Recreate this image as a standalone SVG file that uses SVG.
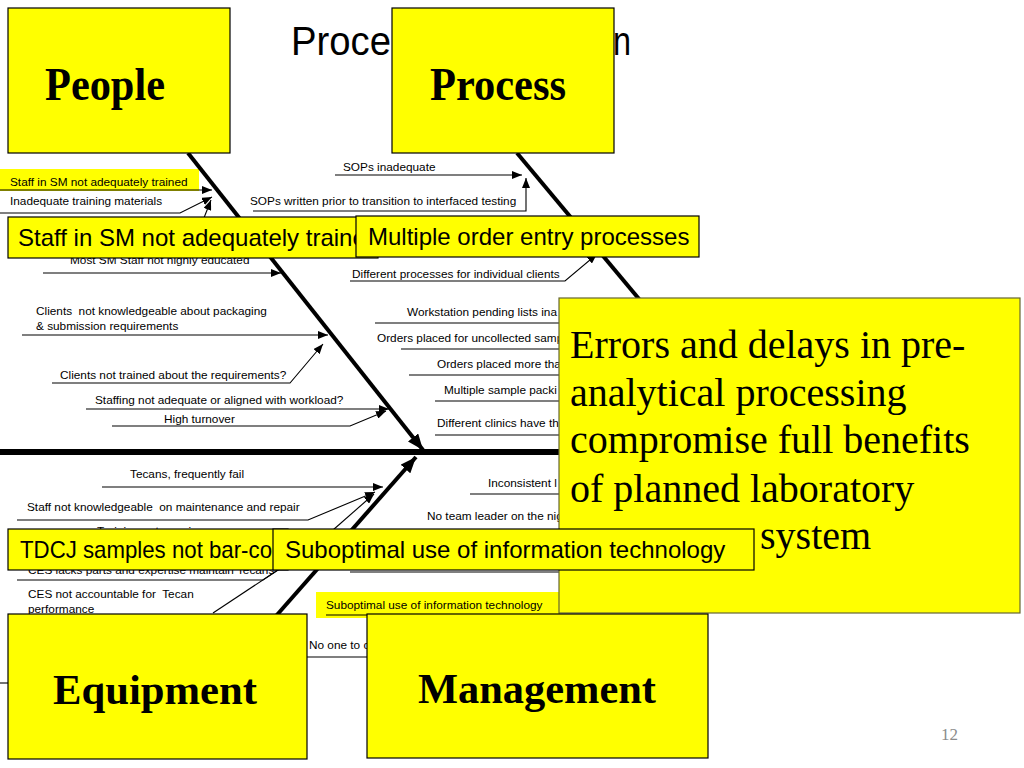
<svg xmlns="http://www.w3.org/2000/svg" width="1024" height="768" viewBox="0 0 1024 768">
<defs>
<marker id="ah" markerUnits="userSpaceOnUse" markerWidth="10" markerHeight="8" refX="10" refY="4" orient="auto"><path d="M0,0 L10,4 L0,8 z" fill="#000"/></marker>
<marker id="ahb" markerUnits="userSpaceOnUse" markerWidth="16" markerHeight="13" refX="16" refY="6.5" orient="auto"><path d="M0,0 L16,6.5 L0,13 z" fill="#000"/></marker>
<style>
.s{font-family:"Liberation Sans",Arial,sans-serif;font-size:11.8px;fill:#000;white-space:pre}
.m{font-family:"Liberation Sans",Arial,sans-serif;font-size:24px;fill:#000;white-space:pre}
.h{font-family:"Liberation Serif","Times New Roman",serif;font-weight:bold;fill:#000}
.big{font-family:"Liberation Serif","Times New Roman",serif;font-size:40px;fill:#000}
.box{fill:#ffff00;stroke:#000;stroke-width:1.2}
.hl{fill:#ffff00}
.t{fill:none;stroke:#000;stroke-width:1.1}
.ta{fill:none;stroke:#000;stroke-width:1.1;marker-end:url(#ah)}
.rib{fill:none;stroke:#000;stroke-width:4}
</style>
</defs>
<rect width="1024" height="768" fill="#fff"/>
<g id="title">
<text x="291" y="55" font-family="Liberation Sans,Arial,sans-serif" font-size="40" textLength="100" lengthAdjust="spacingAndGlyphs">Proce</text>
<text x="613" y="55" font-family="Liberation Sans,Arial,sans-serif" font-size="40" textLength="18" lengthAdjust="spacingAndGlyphs">n</text>
</g>
<g id="highlights">
<rect class="hl" x="0" y="169" width="199" height="22"/>
<rect class="hl" x="316" y="592" width="244" height="26"/>
</g>
<g id="connectors">
<line x1="0" y1="452" x2="600" y2="452" stroke="#000" stroke-width="6"/>
<line class="rib" x1="188" y1="153" x2="423" y2="450" marker-end="url(#ahb)"/>
<line class="rib" x1="517" y1="153" x2="690" y2="360"/>
<line class="rib" x1="276" y1="616" x2="416" y2="457" marker-end="url(#ahb)"/>
<line class="ta" x1="0" y1="190" x2="212" y2="190"/>
<polyline class="ta" points="0,213 180,213 212,197"/>
<line class="ta" x1="200" y1="228" x2="211" y2="200"/>
<line class="ta" x1="43" y1="273" x2="281" y2="273"/>
<line class="ta" x1="22" y1="335" x2="328" y2="335"/>
<polyline class="ta" points="52,383 290,383 323,344"/>
<line class="ta" x1="86" y1="409" x2="389" y2="409"/>
<polyline class="ta" points="112,426 350,426 386,411"/>
<line class="ta" x1="335" y1="175" x2="522" y2="175"/>
<polyline class="ta" points="253,211 526,211 526,178"/>
<polyline class="ta" points="350,281 565,281 597,254"/>
<line class="t" x1="375" y1="323" x2="600" y2="323"/>
<line class="t" x1="401" y1="349" x2="600" y2="349"/>
<line class="t" x1="409" y1="375" x2="600" y2="375"/>
<line class="t" x1="435" y1="401" x2="600" y2="401"/>
<line class="t" x1="435" y1="435" x2="600" y2="435"/>
<line class="t" x1="470" y1="494" x2="600" y2="494"/>
<line class="ta" x1="102" y1="487" x2="383" y2="487"/>
<polyline class="ta" points="17,520 308,520 375,492"/>
<line class="ta" x1="333" y1="530" x2="374" y2="494"/>
<polyline class="t" points="17,580 263,580 290,562"/>
<line class="t" x1="213" y1="613" x2="290" y2="562"/>
<line class="t" x1="350" y1="572" x2="560" y2="572" stroke-width="2"/>
<line class="t" x1="326" y1="615" x2="558" y2="615"/>
<line class="t" x1="307" y1="657" x2="367" y2="657"/>
<line class="t" x1="0" y1="683" x2="9" y2="683"/>
</g>
<g id="labels">
<text class="s" x="10" y="186">Staff in SM not adequately trained</text>
<text class="s" x="10" y="205">Inadequate training materials</text>
<text class="s" x="70" y="264">Most SM Staff not highly educated</text>
<text class="s" x="36" y="315">Clients  not knowledgeable about packaging</text>
<text class="s" x="36" y="330">&amp; submission requirements</text>
<text class="s" x="60" y="379">Clients not trained about the requirements?</text>
<text class="s" x="95" y="404">Staffing not adequate or aligned with workload?</text>
<text class="s" x="164" y="423">High turnover</text>
<text class="s" x="343" y="171">SOPs inadequate</text>
<text class="s" x="250" y="205">SOPs written prior to transition to interfaced testing</text>
<text class="s" x="352" y="278">Different processes for individual clients</text>
<text class="s" x="407" y="316">Workstation pending lists ina</text>
<text class="s" x="377" y="342">Orders placed for uncollected samp</text>
<text class="s" x="437" y="368">Orders placed more tha</text>
<text class="s" x="444" y="394">Multiple sample packi</text>
<text class="s" x="437" y="427">Different clinics have th</text>
<text class="s" x="488" y="487">Inconsistent l</text>
<text class="s" x="427" y="520">No team leader on the nig</text>
<text class="s" x="326" y="609">Suboptimal use of information technology</text>
<text class="s" x="309" y="649">No one to c</text>
<text class="s" x="130" y="478">Tecans, frequently fail</text>
<text class="s" x="27" y="511">Staff not knowledgeable  on maintenance and repair</text>
<text class="s" x="97" y="535">Training not ongoing</text>
<text class="s" x="28" y="574">CES lacks parts and expertise maintain Tecans</text>
<text class="s" x="28" y="598">CES not accountable for  Tecan</text>
<text class="s" x="28" y="613">performance</text>
</g>
<g id="people">
<rect class="box" x="8" y="8" width="222" height="145"/>
<text class="h" x="45" y="100" font-size="46" textLength="120" lengthAdjust="spacingAndGlyphs">People</text>
</g>
<g id="process">
<rect class="box" x="392" y="8" width="222" height="145"/>
<text class="h" x="430" y="100" font-size="46" textLength="136" lengthAdjust="spacingAndGlyphs">Process</text>
</g>
<g id="staff-box">
<rect class="box" x="8" y="217" width="370" height="41"/>
<text class="m" x="18" y="246">Staff in SM not adequately traine</text>
</g>
<g id="multiple-box">
<rect class="box" x="356" y="216" width="343" height="41"/>
<text class="m" x="368" y="245">Multiple order entry processes</text>
</g>
<g id="effect">
<rect x="559" y="298" width="461" height="315" fill="#ffff00" stroke="#666633" stroke-width="1.2"/>
<text class="big" x="570" y="358">Errors and delays in pre-</text>
<text class="big" x="570" y="406">analytical processing</text>
<text class="big" x="570" y="453">compromise full benefits</text>
<text class="big" x="570" y="502">of planned laboratory</text>
<text class="big" x="760" y="549">system</text>
</g>
<g id="tdcj-box">
<rect class="box" x="8" y="529" width="280" height="41"/>
<text class="m" x="20" y="558" textLength="252" lengthAdjust="spacingAndGlyphs">TDCJ samples not bar-co</text>
</g>
<g id="suboptimal-box">
<rect class="box" x="273" y="529" width="481" height="41"/>
<text class="m" x="285" y="558">Suboptimal use of information technology</text>
</g>
<g id="equipment">
<rect class="box" x="8" y="614" width="299" height="145"/>
<text class="h" x="53" y="704" font-size="43" textLength="204" lengthAdjust="spacingAndGlyphs">Equipment</text>
</g>
<g id="management">
<rect class="box" x="367" y="614" width="341" height="144"/>
<text class="h" x="418" y="703" font-size="43" textLength="238" lengthAdjust="spacingAndGlyphs">Management</text>
</g>
<text x="941" y="740" font-family="Liberation Serif,serif" font-size="17" fill="#8c8c8c">12</text>
</svg>
